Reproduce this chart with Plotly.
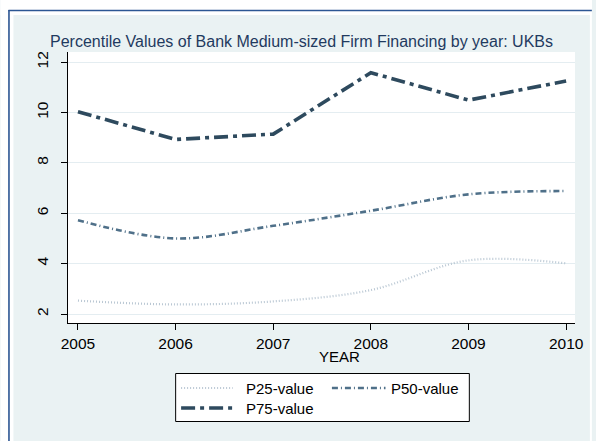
import plotly.graph_objects as go

# Data: percentile values by year
years = [2005, 2006, 2007, 2008, 2009, 2010]
p25_values = [2.53, 2.38, 2.50, 2.95, 4.13, 4.01]
p50_values = [5.72, 5.00, 5.50, 6.10, 6.75, 6.88]
p75_values = [10.03, 8.93, 9.14, 11.58, 10.49, 11.25]
y_ticks = [2, 4, 6, 8, 10, 12]
series_names = ["P25-value", "P50-value", "P75-value"]

W, H = 596, 441
L, R, T, B = 68, 17, 52, 118
PW, PH = W - L - R, H - T - B

FONT = "Liberation Sans, Arial, sans-serif"
BG = "#EAF2F3"
FRAME = "#2C5693"
C25, C50, C75 = "#B9C7D3", "#4F7089", "#2E4A5E"


def px(x):
    return (x - L) / PW


def py(y):
    return (H - B - y) / PH


fig = go.Figure()
fig.add_trace(go.Scatter(x=years, y=p25_values, mode="lines", name=series_names[0],
                         line=dict(color=C25, width=2.2, dash="1px,2px", shape="spline", smoothing=1.0)))
fig.add_trace(go.Scatter(x=years, y=p50_values, mode="lines", name=series_names[1],
                         line=dict(color=C50, width=2.6, dash="6px,3px,1px,3px", shape="spline", smoothing=1.0)))
fig.add_trace(go.Scatter(x=years, y=p75_values, mode="lines", name=series_names[2],
                         line=dict(color=C75, width=3.6, dash="14px,5px,4px,5px")))

shapes = [
    # white page strips around the graph region
    dict(type="rect", xref="paper", yref="paper", x0=px(0), x1=px(13), y0=py(H), y1=py(0),
         fillcolor="white", line_width=0, layer="below"),
    dict(type="rect", xref="paper", yref="paper", x0=px(0), x1=px(W), y0=py(15), y1=py(0),
         fillcolor="white", line_width=0, layer="below"),
    dict(type="rect", xref="paper", yref="paper", x0=px(594), x1=px(W), y0=py(H), y1=py(0),
         fillcolor="white", line_width=0, layer="below"),
    # frame lines
    dict(type="line", xref="paper", yref="paper", x0=px(8.5), x1=px(8.5), y0=py(10), y1=py(H),
         line=dict(color=FRAME, width=1.6)),
    dict(type="line", xref="paper", yref="paper", x0=px(8), x1=px(W), y0=py(10.5), y1=py(10.5),
         line=dict(color=FRAME, width=1.6)),
    # legend box
    dict(type="rect", xref="paper", yref="paper", x0=px(176.5), x1=px(472.5), y0=py(421.5), y1=py(373.5),
         fillcolor="white", line=dict(color="black", width=1)),
    # legend samples
    dict(type="line", xref="paper", yref="paper", x0=px(182), x1=px(234), y0=py(388), y1=py(388),
         line=dict(color=C25, width=2.2, dash="1px,2px")),
    dict(type="line", xref="paper", yref="paper", x0=px(334), x1=px(388), y0=py(388), y1=py(388),
         line=dict(color=C50, width=2.6, dash="6px,3px,1px,3px")),
    dict(type="line", xref="paper", yref="paper", x0=px(182), x1=px(236), y0=py(408), y1=py(408),
         line=dict(color=C75, width=3.6, dash="14px,5px,4px,5px")),
]

annotations = [
    dict(text="Percentile Values of Bank Medium-sized Firm Financing by year: UKBs",
         xref="paper", yref="paper", x=px(303.5), y=py(41.5), xanchor="center", yanchor="middle",
         showarrow=False, font=dict(family=FONT, size=16, color="#1F3A60")),
    dict(text="YEAR", xref="paper", yref="paper", x=px(342), y=py(356), xanchor="center", yanchor="middle",
         showarrow=False, font=dict(family=FONT, size=15, color="black")),
    dict(text=series_names[0], xref="paper", yref="paper", x=px(245), y=py(388), xanchor="left",
         yanchor="middle", showarrow=False, font=dict(family=FONT, size=15, color="black")),
    dict(text=series_names[1], xref="paper", yref="paper", x=px(392), y=py(388), xanchor="left",
         yanchor="middle", showarrow=False, font=dict(family=FONT, size=15, color="black")),
    dict(text=series_names[2], xref="paper", yref="paper", x=px(245), y=py(408), xanchor="left",
         yanchor="middle", showarrow=False, font=dict(family=FONT, size=15, color="black")),
]

fig.update_layout(
    width=W, height=H,
    margin=dict(l=L, r=R, t=T, b=B, pad=0),
    paper_bgcolor=BG, plot_bgcolor="white",
    showlegend=False,
    shapes=shapes, annotations=annotations,
    font=dict(family=FONT, size=15, color="black"),
)
fig.update_xaxes(range=[2004.898, 2010.091], tickvals=years, ticks="outside", ticklen=6,
                 tickcolor="black", showline=True, linecolor="black", linewidth=1,
                 showgrid=False, zeroline=False, tickfont=dict(size=15.5))
fig.update_yaxes(range=[1.643, 12.40], tickvals=y_ticks, ticks="outside", ticklen=6,
                 tickcolor="black", showline=True, linecolor="black", linewidth=1,
                 showgrid=True, gridcolor="#E4EDF1", gridwidth=1, zeroline=False,
                 tickangle=-90, tickfont=dict(size=15.5), ticklabelstandoff=7)

fig.write_html("out.html")
